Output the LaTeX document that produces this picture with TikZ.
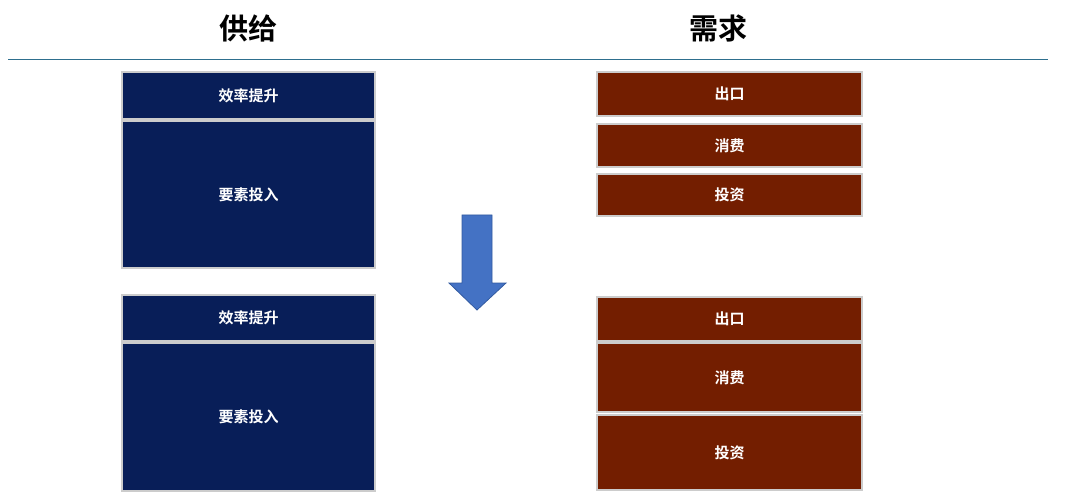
\documentclass[tikz,border=0pt]{standalone}
\usepackage{fontspec}
\newfontfamily\cjk{Noto Sans CJK SC}[BoldFont={Noto Sans CJK SC Bold}]
\definecolor{navy}{RGB}{8,30,88}
\definecolor{brn}{RGB}{115,30,0}
\definecolor{teal1}{RGB}{46,111,142}
\definecolor{arw}{RGB}{68,114,196}
\definecolor{arwb}{RGB}{50,90,160}
\begin{document}
\begin{tikzpicture}[x=1pt,y=-1pt,
  bx/.style={draw=gray!40,line width=1.2pt,inner sep=0,font=\cjk\bfseries\fontsize{15}{15}\selectfont,text=white},
  sup/.style={bx,fill=navy},
  dem/.style={bx,fill=brn},
  ttl/.style={font=\cjk\bfseries\fontsize{29}{29}\selectfont}]
\useasboundingbox (0,0) rectangle (1080,500);
\node[ttl] (t1) at (248,28) {供给};
\node[ttl] (t2) at (718,28) {需求};
\draw[teal1,line width=1pt] (8,60) -- (1048,60);
\def\bb#1#2#3#4#5#6#7{\node[#1,minimum width=#3-#2,minimum height=#5-#4] (#6) at ({(#2+#3)/2},{(#4+#5)/2}) {#7};}
\bb{sup}{122}{375}{72}{119}{a1}{效率提升}
\bb{sup}{122}{375}{121}{268}{a2}{要素投入}
\bb{sup}{122}{375}{295}{341}{a3}{效率提升}
\bb{sup}{122}{375}{343}{491}{a4}{要素投入}
\bb{dem}{597}{862}{72}{116}{b1}{出口}
\bb{dem}{597}{862}{124}{167}{b2}{消费}
\bb{dem}{597}{862}{174}{216}{b3}{投资}
\bb{dem}{597}{862}{297}{341}{b4}{出口}
\bb{dem}{597}{862}{343}{412}{b5}{消费}
\bb{dem}{597}{862}{415}{490}{b6}{投资}
\filldraw[fill=arw,draw=arwb,line width=0.8pt]
 (462,215) -- (492,215) -- (492,283) -- (506,283) -- (477,310) -- (449,283) -- (462,283) -- cycle;
\end{tikzpicture}
\end{document}
